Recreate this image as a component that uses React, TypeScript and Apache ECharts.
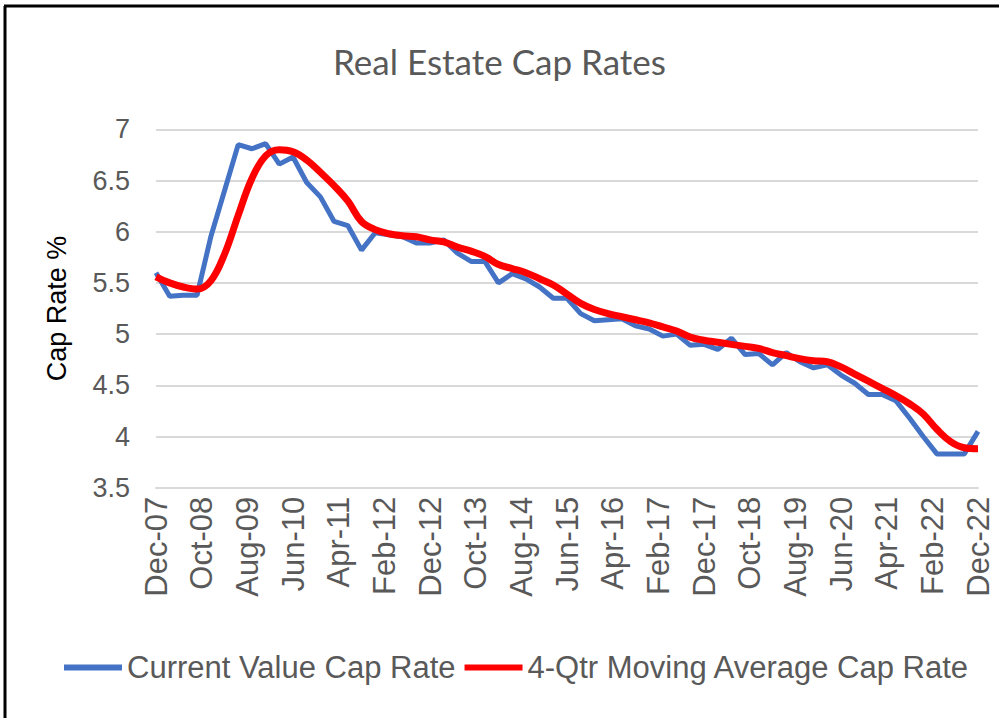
import React, { useEffect, useRef } from "react";
import * as echarts from "echarts";

const MONTHS = ["Jan", "Feb", "Mar", "Apr", "May", "Jun", "Jul", "Aug", "Sep", "Oct", "Nov", "Dec"];
const START_YEAR = 2007;
const START_MONTH = 11; // Dec
const MONTH_COUNT = 181; // Dec-07 .. Dec-22

// Quarterly values, Dec-07 .. Dec-22 (61 quarters)
const currentValueCapRate = [
  5.6, 5.37, 5.38, 5.38, 5.95, 6.4, 6.85, 6.81, 6.86, 6.66,
  6.73, 6.48, 6.34, 6.1, 6.06, 5.82, 5.99, 5.97, 5.95, 5.89,
  5.89, 5.92, 5.79, 5.71, 5.71, 5.5, 5.59, 5.54, 5.46, 5.35,
  5.35, 5.2, 5.13, 5.14, 5.15, 5.08, 5.05, 4.98, 5.0, 4.89,
  4.9, 4.85, 4.96, 4.8, 4.81, 4.7, 4.82, 4.73, 4.67, 4.7,
  4.6, 4.52, 4.41, 4.41, 4.35, 4.18, 4.0, 3.83, 3.83, 3.83,
  4.05,
];

const movingAverageCapRate = [
  5.56, 5.5, 5.46, 5.44, 5.52, 5.78, 6.16, 6.52, 6.74, 6.8,
  6.78, 6.7, 6.58, 6.45, 6.3, 6.1, 6.02, 5.98, 5.96, 5.95,
  5.92, 5.9, 5.85, 5.81, 5.76, 5.68, 5.64, 5.6, 5.54, 5.48,
  5.39, 5.3, 5.24, 5.2, 5.17, 5.14, 5.11, 5.07, 5.03, 4.97,
  4.94, 4.92, 4.9, 4.88, 4.86, 4.82, 4.79, 4.76, 4.74, 4.73,
  4.68, 4.61, 4.54, 4.47, 4.4, 4.32, 4.22, 4.07, 3.95, 3.89,
  3.88,
];

const monthCategories: string[] = [];
for (let k = 0; k < MONTH_COUNT; k++) {
  const m = (START_MONTH + k) % 12;
  const y = START_YEAR + Math.floor((START_MONTH + k) / 12);
  monthCategories.push(MONTHS[m] + "-" + String(y % 100).padStart(2, "0"));
}

function toMonthly(q: number[]): (number | null)[] {
  const out: (number | null)[] = new Array(MONTH_COUNT).fill(null);
  q.forEach((v, i) => {
    out[i * 3] = v;
  });
  return out;
}

export default function App() {
  const ref = useRef<HTMLDivElement>(null);
  useEffect(() => {
    if (!ref.current) return;
    const chart = echarts.init(ref.current, null, { renderer: "svg" });
    const axisFont = "'Liberation Sans', Arial, sans-serif";
    chart.setOption({
      animation: false,
      backgroundColor: "#ffffff",
      title: {
        text: "Real Estate Cap Rates",
        left: "center",
        top: 38,
        textStyle: {
          fontFamily: "Lato, 'Open Sans', sans-serif",
          fontSize: 35,
          fontWeight: "normal",
          color: "#595959",
        },
      },
      legend: {
        left: 64,
        top: 652,
        padding: 0,
        itemWidth: 58,
        itemHeight: 6,
        itemGap: 9,
        icon: "rect",
        textStyle: {
          fontFamily: axisFont,
          fontSize: 31,
          color: "#595959",
        },
        data: ["Current Value Cap Rate", "4-Qtr Moving Average Cap Rate"],
      },
      grid: {
        left: 156,
        right: 21,
        top: 129.3,
        bottom: 230.3,
        containLabel: false,
      },
      xAxis: {
        type: "category",
        boundaryGap: false,
        data: monthCategories,
        axisLine: { show: true, lineStyle: { color: "#d9d9d9", width: 2 } },
        axisTick: { show: false },
        axisLabel: {
          interval: 9,
          rotate: 90,
          margin: 9,
          fontFamily: axisFont,
          fontSize: 31,
          color: "#595959",
        },
        splitLine: { show: false },
      },
      yAxis: {
        type: "value",
        min: 3.5,
        max: 7,
        interval: 0.5,
        name: "Cap Rate %",
        nameLocation: "middle",
        nameRotate: 90,
        nameGap: 86,
        nameTextStyle: {
          fontFamily: axisFont,
          fontSize: 27,
          color: "#000000",
        },
        axisLine: { show: false },
        axisTick: { show: false },
        axisLabel: {
          margin: 26,
          fontFamily: axisFont,
          fontSize: 27,
          color: "#595959",
        },
        splitLine: { show: true, lineStyle: { color: "#d9d9d9", width: 2 } },
      },
      series: [
        {
          name: "Current Value Cap Rate",
          type: "line",
          data: toMonthly(currentValueCapRate),
          connectNulls: true,
          showSymbol: false,
          symbol: "none",
          lineStyle: { color: "#4472C4", width: 5 },
          itemStyle: { color: "#4472C4" },
          z: 2,
        },
        {
          name: "4-Qtr Moving Average Cap Rate",
          type: "line",
          data: toMonthly(movingAverageCapRate),
          connectNulls: true,
          smooth: 0.4,
          showSymbol: false,
          symbol: "none",
          lineStyle: { color: "#FF0000", width: 7 },
          itemStyle: { color: "#FF0000" },
          z: 3,
        },
      ],
      graphic: [
        {
          type: "line",
          shape: { x1: 4, y1: 6, x2: 999, y2: 6 },
          style: { stroke: "#000000", lineWidth: 3 },
        },
        {
          type: "line",
          shape: { x1: 5, y1: 6, x2: 5, y2: 718 },
          style: { stroke: "#000000", lineWidth: 3 },
        },
      ],
    });
    return () => chart.dispose();
  }, []);
  return (
    <div
      ref={ref}
      style={{ position: "fixed", left: 0, top: 0, width: 999, height: 718 }}
    />
  );
}
